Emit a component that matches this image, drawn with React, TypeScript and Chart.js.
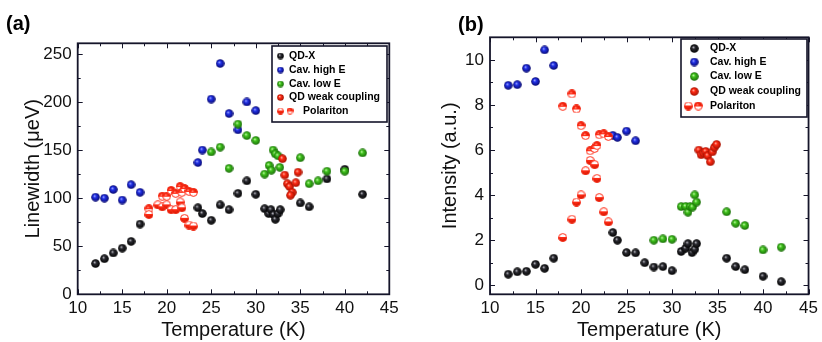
import React, { useEffect, useRef } from "react";
import { Chart, registerables } from "chart.js";
Chart.register(...registerables);

// ---------- data ----------
const xTicks = [10, 15, 20, 25, 30, 35, 40, 45];
const yTicksA = [0, 50, 100, 150, 200, 250];
const yTicksB = [0, 2, 4, 6, 8, 10];

const seriesLabels = ["QD-X", "Cav. high E", "Cav. low E", "QD weak coupling", "Polariton"];

// Panel (a): linewidth (µeV)
const qdxA_T = [12, 13, 14, 15, 16, 17, 23.5, 24, 25, 26, 27, 28, 29, 30, 31, 31.45, 31.7, 32, 32.2, 32.5, 32.75, 35, 36, 38, 40, 42];
const qdxA_W = [32, 37, 43, 48, 55, 73, 90, 84, 77, 93, 88, 105, 118, 104, 89, 84, 88, 83, 78, 84, 88, 95, 91, 120, 130, 104];
const cavHighA_T = [12, 13, 14, 15, 16, 17, 23.5, 24, 25, 26, 27, 28, 29, 30];
const cavHighA_W = [101, 100, 109, 98, 114, 106, 137, 150, 203, 240, 188, 171, 200, 191];
const cavLowA_T = [25, 26, 27, 28, 29, 30, 31, 31.5, 31.75, 31.95, 32.2, 32.5, 32.7, 35, 36, 37, 38, 40, 42];
const cavLowA_W = [148, 153, 131, 177, 165, 160, 125, 134, 129, 150, 146, 144, 132, 142, 115, 118, 128, 128, 147];
const weakA_T = [33, 33.25, 33.55, 33.8, 34.1, 33.9, 34.5, 34.75];
const weakA_W = [141, 124, 115, 112, 106, 103, 116, 127];
const polUpA_T = [18, 19.5, 20, 20.5, 21, 21.5, 21.7, 22, 22.5, 23];
const polUpA_W = [89, 102, 102, 108, 105, 112, 106, 110, 107, 106];
const polLoA_T = [18, 19, 19.5, 20, 20.5, 21, 21.5, 21.7, 22, 22.5, 23];
const polLoA_W = [83, 93, 91, 93, 88, 88, 96, 90, 79, 72, 71];

// Panel (b): intensity (a.u.)
const qdxB_T = [12, 13, 14, 15, 16, 17, 23.5, 24, 25, 26, 27, 28, 29, 30, 31, 31.5, 31.75, 32.2, 32.5, 32.7, 36, 37, 38, 40, 42];
const qdxB_I = [0.49, 0.6, 0.62, 0.93, 0.75, 1.2, 2.34, 2.0, 1.45, 1.44, 1.0, 0.81, 0.83, 0.65, 1.5, 1.64, 1.85, 1.45, 1.6, 1.85, 1.2, 0.83, 0.69, 0.4, 0.16];
const cavHighB_T = [12, 13, 14, 15, 16, 17, 23.5, 24, 25, 26];
const cavHighB_I = [8.87, 8.9, 9.63, 9.04, 10.44, 9.75, 6.65, 6.56, 6.84, 6.41];
const cavLowB_T = [28, 29, 30, 31, 31.5, 31.75, 32, 32.25, 32.5, 32.7, 36, 37, 38, 40, 42];
const cavLowB_I = [2.0, 2.06, 2.04, 3.49, 3.5, 3.24, 3.5, 3.47, 4.01, 3.69, 3.26, 2.75, 2.65, 1.57, 1.69];
const weakB_T = [32.95, 33.2, 33.45, 33.7, 33.92, 34.2, 34.43, 34.65, 34.9];
const weakB_I = [6.0, 5.79, 5.87, 5.94, 5.75, 5.48, 5.92, 6.12, 6.25];
const polUpB_T = [18, 19, 19.5, 20, 20.5, 21, 21.5, 21.75, 22, 22.5, 23];
const polUpB_I = [7.94, 8.49, 7.82, 7.08, 6.64, 5.97, 6.07, 6.2, 6.68, 6.72, 6.6];
const polLoB_T = [18, 19, 19.5, 20, 20.5, 21, 21.5, 21.75, 22, 22.5, 23];
const polLoB_I = [2.12, 2.93, 3.69, 4.01, 5.08, 5.54, 5.35, 4.74, 3.89, 3.26, 2.81];

// ---------- styling helpers ----------
const FONT = "'Liberation Sans', Arial, Helvetica, sans-serif";
const INK = "#15152a";

function ball(d: number, hi: string, mid: string, dark: string) {
  const c = document.createElement("canvas");
  c.width = d; c.height = d;
  const g = c.getContext("2d")!;
  const r = d / 2;
  const grad = g.createRadialGradient(r * 0.75, r * 0.7, 0, r, r, r);
  grad.addColorStop(0, hi);
  grad.addColorStop(0.35, mid);
  grad.addColorStop(1, dark);
  g.fillStyle = grad;
  g.beginPath();
  g.arc(r, r, r - 0.2, 0, Math.PI * 2);
  g.fill();
  return c;
}

function halfBall(d: number, redTop: boolean) {
  const c = document.createElement("canvas");
  c.width = d; c.height = d;
  const g = c.getContext("2d")!;
  const r = d / 2;
  g.fillStyle = "#ffffff";
  g.beginPath(); g.arc(r, r, r - 0.6, 0, Math.PI * 2); g.fill();
  g.save();
  g.beginPath();
  if (redTop) g.rect(0, 0, d, r); else g.rect(0, r, d, r);
  g.clip();
  const grad = g.createRadialGradient(r * 0.75, r * 0.7, 0, r, r, r);
  grad.addColorStop(0, "#ff9a88");
  grad.addColorStop(0.35, "#ff2a14");
  grad.addColorStop(1, "#c01400");
  g.fillStyle = grad;
  g.beginPath(); g.arc(r, r, r - 0.2, 0, Math.PI * 2); g.fill();
  g.restore();
  g.strokeStyle = "#ff2a14";
  g.lineWidth = 1;
  g.beginPath(); g.arc(r, r, r - 0.6, 0, Math.PI * 2); g.stroke();
  g.beginPath(); g.moveTo(0.5, r); g.lineTo(d - 0.5, r); g.stroke();
  return c;
}

function markers(d: number) {
  return {
    black: ball(d, "#d0d0d8", "#2a2a30", "#000000"),
    blue: ball(d, "#b0b8ff", "#2030e8", "#08086a"),
    green: ball(d, "#d8ffc0", "#40c41c", "#186808"),
    red: ball(d, "#ffc4b4", "#ff2a14", "#a01000"),
    polUp: halfBall(d, true),
    polLo: halfBall(d, false),
  };
}

const toPts = (xs: number[], ys: number[]) => xs.map((x, i) => ({ x, y: ys[i] }));
const minorsOf = (m: number[]) => m.slice(0, -1).map((v, i) => (v + m[i + 1]) / 2);

const framePlugin = {
  id: "frameTicks",
  afterDraw(chart: any, _a: any, opts: any) {
    const { ctx, chartArea } = chart;
    const { left, right, top, bottom } = chartArea;
    const xs = chart.scales.x, ys = chart.scales.y;
    ctx.save();
    ctx.strokeStyle = INK;
    ctx.lineWidth = 1;
    const xMaj = opts.xMajor as number[], yMaj = opts.yMajor as number[];
    const xMin = minorsOf(xMaj), yMin = minorsOf(yMaj);
    const drawX = (vals: number[], len: number) => {
      vals.forEach((v) => {
        const p = Math.round(xs.getPixelForValue(v)) + 0.5;
        ctx.beginPath(); ctx.moveTo(p, bottom); ctx.lineTo(p, bottom - len); ctx.stroke();
        ctx.beginPath(); ctx.moveTo(p, top); ctx.lineTo(p, top + len); ctx.stroke();
      });
    };
    const drawY = (vals: number[], len: number) => {
      vals.forEach((v) => {
        if (v < ys.min || v > ys.max) return;
        const p = Math.round(ys.getPixelForValue(v)) + 0.5;
        ctx.beginPath(); ctx.moveTo(left, p); ctx.lineTo(left + len, p); ctx.stroke();
        ctx.beginPath(); ctx.moveTo(right, p); ctx.lineTo(right - len, p); ctx.stroke();
      });
    };
    drawX(xMaj, 5); drawX(xMin, 3);
    drawY(yMaj, 5); drawY(yMin, 3);

    // legend
    const L = opts.legend;
    ctx.fillStyle = "#ffffff";
    ctx.fillRect(L.x1, L.y1, L.x2 - L.x1, L.y2 - L.y1);
    ctx.lineWidth = 1.6;
    ctx.strokeStyle = INK;
    ctx.strokeRect(L.x1, L.y1, L.x2 - L.x1, L.y2 - L.y1);
    ctx.font = `bold 10.5px ${FONT}`;
    ctx.fillStyle = "#000";
    ctx.textBaseline = "middle";
    ctx.textAlign = "left";
    L.items.forEach((it: any, i: number) => {
      const y = L.rows[i];
      it.imgs.forEach((img: HTMLCanvasElement, k: number) => {
        const mx = it.mx[k];
        ctx.drawImage(img, mx - img.width / 2, y - img.height / 2);
      });
      ctx.fillText(it.label, it.tx, y);
    });

    // frame
    ctx.lineWidth = 1.8;
    ctx.strokeStyle = INK;
    ctx.strokeRect(left, top, right - left, bottom - top);

    // panel tag
    ctx.font = `bold 20px ${FONT}`;
    ctx.fillStyle = "#000";
    ctx.textBaseline = "alphabetic";
    ctx.fillText(opts.tag.text, opts.tag.x, opts.tag.y);
    ctx.restore();
  },
};

function makeConfig(p: any) {
  const mk = markers(9);
  const lg = markers(p.legendD);
  const ds = (data: any[], img: HTMLCanvasElement) => ({
    data,
    pointStyle: img,
    pointRadius: 4.5,
    showLine: false,
  });
  const tickFont = { family: FONT, size: 17 };
  return {
    type: "scatter",
    data: {
      datasets: [
        ds(toPts(p.polLo[0], p.polLo[1]), mk.polLo),
        ds(toPts(p.polUp[0], p.polUp[1]), mk.polUp),
        ds(toPts(p.weak[0], p.weak[1]), mk.red),
        ds(toPts(p.cavLow[0], p.cavLow[1]), mk.green),
        ds(toPts(p.cavHigh[0], p.cavHigh[1]), mk.blue),
        ds(toPts(p.qdx[0], p.qdx[1]), mk.black),
      ],
    },
    options: {
      responsive: false,
      animation: false,
      devicePixelRatio: 1,
      layout: { padding: { left: 0, top: p.padTop, right: p.padRight, bottom: 0 } },
      plugins: {
        legend: { display: false },
        tooltip: { enabled: false },
        frameTicks: {
          xMajor: xTicks,
          yMajor: p.yTicks,
          tag: p.tag,
          legend: {
            ...p.legendBox,
            rows: p.legendRows,
            items: [
              { label: seriesLabels[0], imgs: [lg.black], mx: [p.legendMX], tx: p.legendTX },
              { label: seriesLabels[1], imgs: [lg.blue], mx: [p.legendMX], tx: p.legendTX },
              { label: seriesLabels[2], imgs: [lg.green], mx: [p.legendMX], tx: p.legendTX },
              { label: seriesLabels[3], imgs: [lg.red], mx: [p.legendMX], tx: p.legendTX },
              { label: seriesLabels[4], imgs: [lg.polLo, lg.polUp], mx: p.polMX, tx: p.polTX },
            ],
          },
        },
      },
      scales: {
        x: {
          type: "linear",
          min: 10,
          max: 45,
          afterBuildTicks: (s: any) => { s.ticks = xTicks.map((v) => ({ value: v })); },
          afterFit: (s: any) => { s.height = p.xAxisH; },
          grid: { display: false, drawTicks: false },
          border: { display: false },
          ticks: { padding: 4, font: tickFont, color: "#111", maxRotation: 0, autoSkip: false },
          title: { display: true, text: "Temperature (K)", font: { family: FONT, size: 20 }, color: "#111", padding: { top: 0, bottom: 0 } },
        },
        y: {
          type: "linear",
          min: p.yMin,
          max: p.yMax,
          afterBuildTicks: (s: any) => { s.ticks = p.yTicks.map((v: number) => ({ value: v })); },
          afterFit: (s: any) => { s.width = p.yAxisW; },
          grid: { display: false, drawTicks: false },
          border: { display: false },
          ticks: { padding: 6, font: tickFont, color: "#111", autoSkip: false },
          title: { display: true, text: p.yTitle, font: { family: FONT, size: 20 }, color: "#111", padding: { top: p.yTitlePad, bottom: 0 } },
        },
      },
    },
    plugins: [framePlugin],
  };
}

const panelA = {
  qdx: [qdxA_T, qdxA_W], cavHigh: [cavHighA_T, cavHighA_W], cavLow: [cavLowA_T, cavLowA_W],
  weak: [weakA_T, weakA_W], polUp: [polUpA_T, polUpA_W], polLo: [polLoA_T, polLoA_W],
  yTicks: yTicksA, yMin: 0, yMax: 261, yTitle: "Linewidth (\u03bceV)", yTitlePad: 21,
  padTop: 43.3, padRight: 21.7, xAxisH: 47.7, yAxisW: 77.7,
  tag: { text: "(a)", x: 6, y: 30 },
  legendD: 7,
  legendBox: { x1: 272, y1: 46, x2: 387, y2: 122 },
  legendRows: [56, 70, 84, 97.5, 111],
  legendMX: 280.5, legendTX: 289, polMX: [280.5, 290], polTX: 303,
};

const panelB = {
  qdx: [qdxB_T, qdxB_I], cavHigh: [cavHighB_T, cavHighB_I], cavLow: [cavLowB_T, cavLowB_I],
  weak: [weakB_T, weakB_I], polUp: [polUpB_T, polUpB_I], polLo: [polLoB_T, polLoB_I],
  yTicks: yTicksB, yMin: -0.4, yMax: 11, yTitle: "Intensity (a.u.)", yTitlePad: 27,
  padTop: 37.3, padRight: 12, xAxisH: 47.7, yAxisW: 79,
  tag: { text: "(b)", x: 47, y: 31 },
  legendD: 9,
  legendBox: { x1: 270, y1: 39, x2: 396, y2: 117 },
  legendRows: [48.5, 62, 76.5, 91.5, 106],
  legendMX: 283.3, legendTX: 299, polMX: [277.3, 287.3], polTX: 299,
};

export default function App() {
  const refA = useRef<HTMLCanvasElement | null>(null);
  const refB = useRef<HTMLCanvasElement | null>(null);
  useEffect(() => {
    const a = new Chart(refA.current as any, makeConfig(panelA) as any);
    const b = new Chart(refB.current as any, makeConfig(panelB) as any);
    return () => { a.destroy(); b.destroy(); };
  }, []);
  return (
    <div style={{ position: "fixed", left: 0, top: 0, width: 822, height: 342, background: "#fff", overflow: "hidden" }}>
      <canvas ref={refA} width={411} height={342} style={{ position: "absolute", left: 0, top: 0, width: 411, height: 342 }} />
      <canvas ref={refB} width={411} height={342} style={{ position: "absolute", left: 411, top: 0, width: 411, height: 342 }} />
    </div>
  );
}
